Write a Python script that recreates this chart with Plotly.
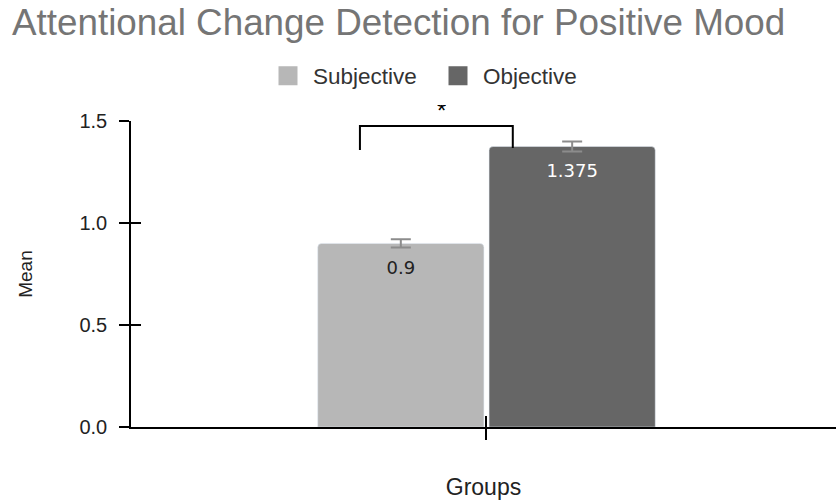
import plotly.graph_objects as go

categories = ["Positive Mood"]
series_names = ["Subjective", "Objective"]
means = {"Subjective": [0.9], "Objective": [1.375]}
errors = {"Subjective": [0.02], "Objective": [0.025]}
colors = {"Subjective": "#b7b7b7", "Objective": "#666666"}
label_colors = {"Subjective": "#222222", "Objective": "#ffffff"}
y_ticks = [0, 0.5, 1.0, 1.5]

# significance bracket (category-axis units / mean units)
bracket_x = [-0.178, 0.037]
bracket_top = 1.475
bracket_feet = [1.358, 1.368]
sig_label = "*"
sig_x = -0.0626

x_range = [-0.5, 0.4916]

fig = go.Figure()

for name in series_names:
    fig.add_trace(go.Bar(
        name=name, x=categories, y=means[name],
        marker=dict(color=colors[name], cornerradius=4),
        error_y=dict(type="data", array=errors[name], color="#8c8c8c",
                     thickness=2, width=10),
        showlegend=False, offsetgroup=name, hoverinfo="skip",
    ))

for name in series_names:
    fig.add_trace(go.Scatter(
        x=categories, y=means[name], mode="markers+text",
        text=[f"{v:g}" for v in means[name]], textposition="bottom center",
        textfont=dict(family="DejaVu Sans", size=18, color=label_colors[name]),
        marker=dict(size=26, opacity=0), offsetgroup=name,
        showlegend=False, hoverinfo="skip", cliponaxis=False,
    ))

# legend proxies
for name in series_names:
    fig.add_trace(go.Scatter(
        x=[None], y=[None], mode="markers", name=name,
        marker=dict(symbol="square", size=16, color=colors[name],
                    line=dict(color=colors[name], width=3)),
    ))

# overlay axes for inward tick halves
fig.add_trace(go.Scatter(x=[None], y=[None], xaxis="x2", yaxis="y2",
                         showlegend=False, hoverinfo="skip"))

# bracket
fig.add_shape(type="path", xref="x", yref="y",
              path=(f"M {bracket_x[0]},{bracket_feet[0]} L {bracket_x[0]},{bracket_top} "
                    f"L {bracket_x[1]},{bracket_top} L {bracket_x[1]},{bracket_feet[1]}"),
              line=dict(color="black", width=2))

fig.add_annotation(x=sig_x, y=bracket_top, xref="x", yref="y",
                   text=sig_label, showarrow=False, yanchor="bottom", height=19,
                   valign="bottom", font=dict(family="Liberation Sans", size=24, color="black"))

fig.update_layout(
    width=836, height=504,
    margin=dict(l=131, r=0, t=121, b=77),
    paper_bgcolor="white", plot_bgcolor="white",
    font=dict(family="Liberation Sans, Arial, sans-serif", color="#222222"),
    title=dict(text="Attentional Change Detection for Positive Mood",
               font=dict(size=36.8, color="#757575"),
               x=12 / 836, xanchor="left", xref="container",
               y=1 - 22 / 504, yanchor="middle", yref="container"),
    legend=dict(orientation="h", xref="container", yref="container",
                x=263 / 836, xanchor="left", y=1 - 76 / 504, yanchor="middle",
                itemwidth=40, entrywidth=115,
                font=dict(size=22.5, color="#333333")),
    barmode="group", bargap=0.518, bargroupgap=0.03,
    scattermode="group",
    xaxis=dict(type="category", range=x_range, showline=True, linecolor="black", linewidth=1.5,
               ticks="outside", ticklen=11, tickwidth=1.5, tickcolor="black",
               showticklabels=False, showgrid=False, zeroline=False,
               title=dict(text="Groups", font=dict(size=23, color="#222222"), standoff=40)),
    yaxis=dict(range=[0, 1.5], tickvals=y_ticks, tickformat=".1f",
               showline=True, linecolor="black", linewidth=1.5,
               ticks="outside", ticklen=10, tickwidth=1.5, tickcolor="black",
               ticklabelstandoff=8,
               tickfont=dict(size=20, color="#222222"),
               showgrid=False, zeroline=False,
               title=dict(text="Mean", font=dict(size=19, color="#222222"), standoff=42)),
    xaxis2=dict(overlaying="x", range=x_range, tickvals=[0], ticks="inside",
                ticklen=11, tickwidth=1.5, tickcolor="black", showticklabels=False,
                showgrid=False, zeroline=False, showline=False),
    yaxis2=dict(overlaying="y", range=[0, 1.5], tickvals=y_ticks, ticks="inside",
                ticklen=10, tickwidth=1.5, tickcolor="black", showticklabels=False,
                showgrid=False, zeroline=False, showline=False),
)

fig.write_html("out.html", config={"displayModeBar": False},
               post_script="document.body.style.margin='0px';")
